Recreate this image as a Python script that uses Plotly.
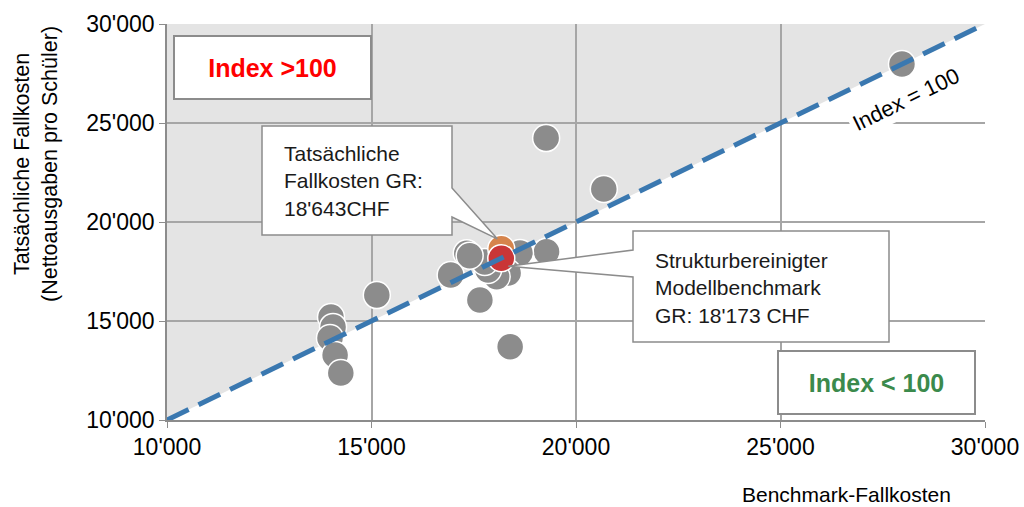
import plotly.graph_objects as go

# Benchmark vs actual per-pupil costs (CHF)
benchmark = [27970, 19270, 20680, 19280, 18630, 18340, 18060, 17850, 17770,
             17330, 17400, 16935, 17650, 18390, 15130,
             14010, 14060, 13985, 14110, 14250]
actual = [27980, 24240, 21670, 18500, 18430, 17420, 17240, 17580, 17980,
          18420, 18300, 17320, 16060, 13700, 16310,
          15200, 14700, 14140, 13280, 12370]

gr_benchmark = 18173
gr_actual = 18643

axis_range = [10000, 30000]
tick_vals = [10000, 15000, 20000, 25000, 30000]

# plot area in screen pixels (body margin is removed in the page)
L, R, T, B = 167, 985, 24, 420
W, H = 1024, 507
ppx = (axis_range[1] - axis_range[0]) / (R - L)   # data units per px (x)
ppy = (axis_range[1] - axis_range[0]) / (B - T)   # data units per px (y)


def px2x(p):
    return axis_range[0] + (p - L) * ppx


def px2y(p):
    return axis_range[0] + (B - p) * ppy


def paper_x(p):
    return (p - L) / (R - L)


def paper_y(p):
    return (B - p) / (B - T)


def path(points):
    return "M " + " L ".join(f"{x},{y}" for x, y in points) + " Z"


fig = go.Figure()

fig.add_trace(go.Scatter(
    x=benchmark, y=actual, mode="markers",
    marker=dict(size=27, color="#8c8c8c", line=dict(color="white", width=1.5)),
    hoverinfo="x+y", showlegend=False))

fig.add_trace(go.Scatter(
    x=[gr_benchmark], y=[gr_actual], mode="markers",
    marker=dict(size=27, color="#d6844c", line=dict(color="white", width=1.5)),
    showlegend=False))

fig.add_trace(go.Scatter(
    x=[gr_benchmark], y=[gr_benchmark], mode="markers",
    marker=dict(size=27, color="#c93637", line=dict(color="white", width=1.5)),
    showlegend=False))

# Index = 100 diagonal
fig.add_trace(go.Scatter(
    x=axis_range, y=axis_range, mode="lines",
    line=dict(color="#3a78b0", width=5, dash="24px,11px"),
    showlegend=False, hoverinfo="skip"))

shapes = [
    # shaded region above the diagonal
    dict(type="path", layer="below", xref="x", yref="y",
         path=path([(axis_range[0], axis_range[0]), (axis_range[1], axis_range[1]),
                    (axis_range[0], axis_range[1])]),
         fillcolor="#e4e4e4", line=dict(width=0)),
]

# callout 1 -> actual cost point
tip1 = (gr_benchmark - 4 * ppx, gr_actual + 10 * ppy)
c1 = [(px2x(262), px2y(126)), (px2x(452), px2y(126)), (px2x(452), px2y(188)),
      tip1, (px2x(452), px2y(217)), (px2x(452), px2y(235)), (px2x(262), px2y(235))]
# callout 2 -> benchmark point
tip2 = (gr_benchmark + 7 * ppx, gr_benchmark - 8 * ppy)
c2 = [(px2x(633), px2y(231)), (px2x(889), px2y(231)), (px2x(889), px2y(342)),
      (px2x(633), px2y(342)), (px2x(633), px2y(277)), tip2, (px2x(633), px2y(250))]
for c in (c1, c2):
    shapes.append(dict(type="path", layer="above", xref="x", yref="y", path=path(c),
                       fillcolor="white", line=dict(color="#8c8c8c", width=1.5)))

fig.update_layout(shapes=shapes)

txt_font = dict(family="Liberation Sans Narrow, Liberation Sans, Arial", size=21, color="#1a1a1a")

annotations = [
    dict(x=px2x(282), y=px2y(181), xref="x", yref="y", xanchor="left", yanchor="middle",
         align="left", showarrow=False, font=txt_font,
         text="Tatsächliche<br>Fallkosten GR:<br>18'643CHF"),
    dict(x=px2x(653), y=px2y(288), xref="x", yref="y", xanchor="left", yanchor="middle",
         align="left", showarrow=False, font=txt_font,
         text="Strukturbereinigter<br>Modellbenchmark<br>GR: 18'173 CHF"),
    dict(x=paper_x(272), y=paper_y(67), xref="paper", yref="paper",
         xanchor="center", yanchor="middle",
         showarrow=False, text="Index >100", width=195, height=61, borderpad=0,
         bgcolor="white", bordercolor="#8c8c8c", borderwidth=2,
         font=dict(family="Liberation Sans", size=25, color="#ff0000", weight="bold")),
    dict(x=paper_x(876), y=paper_y(382), xref="paper", yref="paper",
         xanchor="center", yanchor="middle",
         showarrow=False, text="Index < 100", width=195, height=61, borderpad=0,
         bgcolor="white", bordercolor="#8c8c8c", borderwidth=2,
         font=dict(family="Liberation Sans", size=25, color="#3b8a4c", weight="bold")),
    dict(x=px2x(906), y=px2y(99), xref="x", yref="y", showarrow=False,
         text="Index = 100", textangle=-26, bgcolor="white", borderpad=3,
         font=dict(family="Liberation Sans", size=22, color="#000000")),
    # y axis title
    dict(x=paper_x(36), y=paper_y(164), xref="paper", yref="paper",
         xanchor="center", yanchor="middle", showarrow=False, textangle=-90,
         text="Tatsächliche Fallkosten<br>(Nettoausgaben pro Schüler)",
         font=dict(family="Liberation Sans", size=21.5, color="#000000")),
    # x axis title
    dict(x=paper_x(846), y=paper_y(494), xref="paper", yref="paper",
         xanchor="center", yanchor="middle", showarrow=False,
         text="Benchmark-Fallkosten",
         font=dict(family="Liberation Sans", size=21, color="#000000")),
]

axis_style = dict(range=axis_range, tickvals=tick_vals, tickformat=",",
                  showgrid=True, gridcolor="#a6a6a6", gridwidth=1.5,
                  showline=True, linecolor="#8c8c8c", linewidth=1.5,
                  ticks="outside", ticklen=6, tickcolor="#8c8c8c", zeroline=False,
                  automargin=False, ticklabeloverflow="allow",
                  tickfont=dict(family="Liberation Sans", size=23, color="#000000"))

fig.update_layout(
    width=W, height=H,
    margin=dict(l=L, r=W - R, t=T, b=H - B),
    paper_bgcolor="white", plot_bgcolor="white",
    separators=".'",
    annotations=annotations,
    font=dict(family="Liberation Sans", size=22, color="#000000"),
    xaxis=axis_style,
    yaxis=axis_style,
)

fig.write_html("out.html", config=dict(displayModeBar=False),
               post_script="document.body.style.margin='0';document.body.style.overflow='hidden';")
